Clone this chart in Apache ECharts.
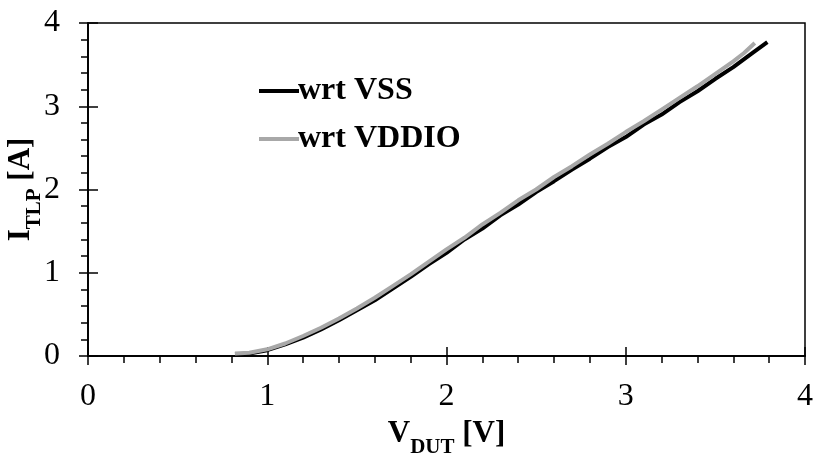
<!DOCTYPE html>
<html>
<head>
<meta charset="utf-8">
<script src="https://cdn.jsdelivr.net/npm/echarts@6/dist/echarts.min.js"></script>
<style>
  html, body { margin: 0; padding: 0; background: #fff; }
  #chart { width: 816px; height: 456px; }
</style>
</head>
<body>
<div id="chart"></div>
<script>
// TLP I-V curves
const vssV = [0.82, 0.90, 1.00, 1.10, 1.20, 1.30, 1.40, 1.50, 1.60, 1.70, 1.80, 1.90, 2.00, 2.10, 2.20, 2.30, 2.40, 2.50, 2.60, 2.70, 2.80, 2.90, 3.00, 3.10, 3.20, 3.30, 3.40, 3.50, 3.60, 3.70, 3.79];
const vssI = [0.02, 0.03, 0.07, 0.14, 0.22, 0.32, 0.43, 0.55, 0.67, 0.81, 0.95, 1.10, 1.24, 1.40, 1.53, 1.69, 1.82, 1.97, 2.10, 2.24, 2.37, 2.51, 2.63, 2.78, 2.90, 3.05, 3.18, 3.33, 3.47, 3.63, 3.77];
const vddioV = [0.82, 0.90, 1.00, 1.10, 1.20, 1.30, 1.40, 1.50, 1.60, 1.70, 1.80, 1.90, 2.00, 2.10, 2.20, 2.30, 2.40, 2.50, 2.60, 2.70, 2.80, 2.90, 3.00, 3.10, 3.20, 3.30, 3.40, 3.50, 3.60, 3.66, 3.72];
const vddioI = [0.03, 0.04, 0.08, 0.15, 0.24, 0.34, 0.45, 0.57, 0.70, 0.84, 0.98, 1.13, 1.28, 1.42, 1.58, 1.72, 1.87, 2.00, 2.15, 2.28, 2.42, 2.55, 2.69, 2.82, 2.96, 3.10, 3.24, 3.39, 3.54, 3.64, 3.76];
const seriesNames = ["wrt VSS", "wrt VDDIO"];
const xTicks = [0, 1, 2, 3, 4];
const yTicks = [0, 1, 2, 3, 4];

const pairs = (xs, ys) => xs.map((x, i) => [x, ys[i]]);

const font = "Liberation Serif";
const black = "#000";

const baseAxis = (ticks) => ({
  type: "value",
  min: ticks[0],
  max: ticks[ticks.length - 1],
  interval: 1,
  splitLine: { show: false }
});

const nameRich = {
  b: { fontFamily: font, fontSize: 31, fontWeight: "bold", color: black, verticalAlign: "bottom", padding: [0, 0, 9, 0] },
  s: { fontFamily: font, fontSize: 21, fontWeight: "bold", color: black, verticalAlign: "bottom" }
};

const chart = echarts.init(document.getElementById("chart"));
chart.setOption({
  animation: false,
  grid: {
    left: 88, right: 11, top: 23, bottom: 100,
    show: true, borderColor: black, borderWidth: 1.5,
    outerBoundsMode: "none"
  },
  legend: {
    orient: "vertical",
    left: 254,
    top: 70,
    itemWidth: 40,
    itemHeight: 4,
    itemGap: 16,
    icon: "rect",
    data: seriesNames,
    textStyle: { fontFamily: font, fontSize: 32, fontWeight: "bold", color: black, padding: [0, 0, 0, -6] }
  },
  xAxis: [
    {
      ...baseAxis(xTicks),
      position: "bottom",
      name: "{b|V}{s|DUT}{b| [V]}",
      nameLocation: "middle",
      nameGap: 62,
      nameMoveOverlap: false,
      nameTextStyle: { rich: nameRich },
      axisLine: { onZero: false, lineStyle: { color: black, width: 1.5 } },
      axisTick: { inside: false, length: 9, lineStyle: { color: black, width: 1.5 } },
      minorTick: { show: true, splitNumber: 5, length: 7, lineStyle: { color: black, width: 1.5 } },
      axisLabel: { fontFamily: font, fontSize: 32, color: black, margin: 25 }
    },
    {
      // second copy of the axis: major ticks pointing inward, so they cross the line
      ...baseAxis(xTicks),
      position: "bottom",
      axisLine: { show: true, onZero: false, lineStyle: { color: black, width: 1.5 } },
      axisTick: { show: true, inside: true, length: 9, lineStyle: { color: black, width: 1.5 } },
      axisLabel: { show: false }
    }
  ],
  yAxis: [
    {
      ...baseAxis(yTicks),
      position: "left",
      name: "{b|I}{s|TLP}{b| [A]}",
      nameLocation: "middle",
      nameGap: 43,
      nameMoveOverlap: false,
      nameTextStyle: { rich: nameRich },
      axisLine: { onZero: false, lineStyle: { color: black, width: 1.5 } },
      axisTick: { inside: false, length: 9, lineStyle: { color: black, width: 1.5 } },
      minorTick: { show: true, splitNumber: 5, length: 7, lineStyle: { color: black, width: 1.5 } },
      axisLabel: { fontFamily: font, fontSize: 32, color: black, margin: 28 }
    },
    {
      ...baseAxis(yTicks),
      position: "left",
      axisLine: { show: true, onZero: false, lineStyle: { color: black, width: 1.5 } },
      axisTick: { show: true, inside: true, length: 10, lineStyle: { color: black, width: 1.5 } },
      axisLabel: { show: false }
    }
  ],
  series: [
    {
      name: seriesNames[0],
      type: "line",
      data: pairs(vssV, vssI),
      showSymbol: false,
      lineStyle: { color: "#000", width: 4 },
      itemStyle: { color: "#000" },
      z: 2
    },
    {
      name: seriesNames[1],
      type: "line",
      xAxisIndex: 1,
      yAxisIndex: 1,
      data: pairs(vddioV, vddioI),
      showSymbol: false,
      lineStyle: { color: "#a8a8a8", width: 4 },
      itemStyle: { color: "#a8a8a8" },
      z: 3
    }
  ]
});
</script>
</body>
</html>
